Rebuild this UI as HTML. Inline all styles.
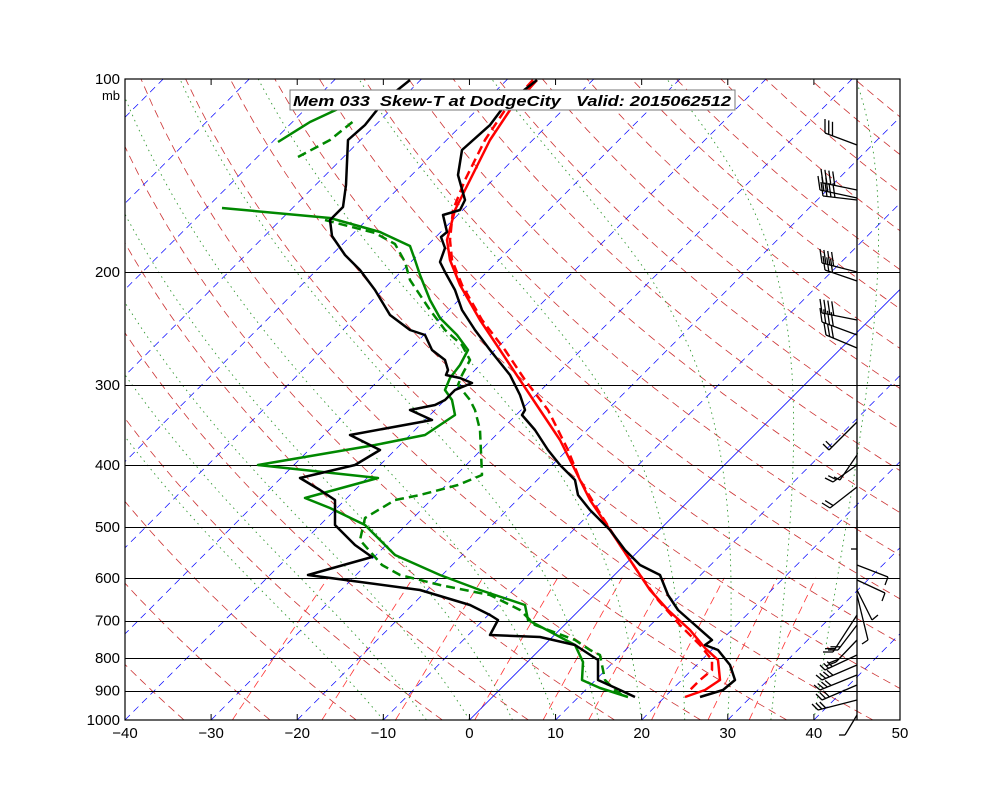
<!DOCTYPE html>
<html><head><meta charset="utf-8"><style>
body{margin:0;background:#fff;}
svg{display:block;font-family:"Liberation Sans",sans-serif;}
</style></head><body>
<svg id="s" width="1000" height="800" xmlns="http://www.w3.org/2000/svg">
<defs><clipPath id="c"><rect x="125" y="79" width="775" height="641"/></clipPath></defs>
<rect width="1000" height="800" fill="#fff"/>
<g id="bg" clip-path="url(#c)"></g>
<g id="hl"></g>
<g id="prof" clip-path="url(#c)" fill="none" stroke-width="2.5" stroke-linejoin="round"></g>
<g id="barbs" stroke="#000" stroke-width="1.3" fill="none"></g>
<line x1="857" y1="79" x2="857" y2="720" stroke="#000" stroke-width="1.3"/>
<rect x="125" y="79" width="775" height="641" fill="none" stroke="#000" stroke-width="1.2"/>
<g id="ax" font-size="15" fill="#000"></g>
<rect x="290" y="90" width="445" height="20" fill="#fff" stroke="#777" stroke-width="1"/>
<text x="293" y="106" font-size="15" font-weight="bold" font-style="italic" textLength="438" lengthAdjust="spacingAndGlyphs" xml:space="preserve">Mem 033  Skew-T at DodgeCity   Valid: 2015062512</text>
</svg>
<script>
var NS="http://www.w3.org/2000/svg";
function el(p,t,a){var e=document.createElementNS(NS,t);for(var k in a)e.setAttribute(k,a[k]);p.appendChild(e);return e;}
function Y(p){return 720-Math.log10(1000/p)*641;}
function X(T,y){return 125+(T+40)*775/90+(720-y);}
var bg=document.getElementById('bg');
// dry adiabats
for(var th=230;th<=520;th+=10){var d="";for(var p=1000;p>=100;p-=10){var T=th*Math.pow(p/1000,0.2857)-273.15;var y=Y(p);d+=(d?"L":"M")+X(T,y).toFixed(1)+","+y.toFixed(1);}
el(bg,"path",{d:d,stroke:"#c33",fill:"none","stroke-width":0.8,"stroke-dasharray":"8,5"});}
// mixing ratio lines
[0.0004,0.001,0.002,0.004,0.007,0.01,0.016,0.024,0.032].forEach(function(w){var d="";for(var p=1000;p>=600;p-=10){var e=w*p/(0.622+w),l=Math.log(e/6.112),T=243.5*l/(17.67-l),y=Y(p);d+=(d?"L":"M")+X(T,y).toFixed(1)+","+y.toFixed(1);}
el(bg,"path",{d:d,stroke:"#f33",fill:"none","stroke-width":0.8,"stroke-dasharray":"8,5"});});
// moist adiabats
function es(Tc){return 6.112*Math.exp(17.67*Tc/(Tc+243.5));}
for(var T0=-10;T0<=40;T0+=5){var T=T0+273.15,d="";for(var p=1000;p>=100;p-=2){var y=Y(p);d+=(d?"L":"M")+X(T-273.15,y).toFixed(1)+","+y.toFixed(1);
var e=es(T-273.15),rs=0.622*e/(p-e);var dT=(287*T+2.5e6*rs)/(p*(1004+2.5e6*2.5e6*rs*0.622/(287*T*T)));T-=dT*2;}
el(bg,"path",{d:d,stroke:"#393",fill:"none","stroke-width":0.9,"stroke-dasharray":"1.5,4"});}
// isotherms
for(var t=-160;t<=50;t+=10){el(bg,"line",{x1:X(t,720),y1:720,x2:X(t,79),y2:79,stroke:"#00f","stroke-width":t==0?0.8:0.7,"stroke-dasharray":t==0?"":"7,5"});}
var hl=document.getElementById('hl');
[200,300,400,500,600,700,800,900].forEach(function(p){var y=Math.round(Y(p))+0.5;el(hl,"line",{x1:125,x2:900,y1:y,y2:y,stroke:"#000","stroke-width":0.9});});
var ax=document.getElementById('ax');
[100,200,300,400,500,600,700,800,900,1000].forEach(function(p){var y=Y(p);el(ax,"text",{x:120,y:y+5,"text-anchor":"end"}).textContent=p;});
el(ax,"text",{x:120,y:100,"text-anchor":"end","font-size":13}).textContent="mb";
for(var t=-40;t<=50;t+=10){var x=125+(t+40)*775/90;el(ax,"text",{x:x,y:738,"text-anchor":"middle"}).textContent=(t<0?"\u2212"+(-t):t);
el(ax,"line",{x1:x,x2:x,y1:720,y2:714,stroke:"#000"});el(ax,"line",{x1:x,x2:x,y1:79,y2:85,stroke:"#000"});}
var pr=document.getElementById('prof');
function pl(pts,c,dash){var d=pts.map(function(q,i){return(i?"L":"M")+q[0]+","+q[1];}).join("");var a={d:d,stroke:c};if(dash)a["stroke-dasharray"]="9,5";el(pr,"path",a);}
pl([[537,80],[510,110],[490,140],[470,180],[455,210],[447,240],[450,260],[460,285],[480,320],[500,350],[520,380],[540,410],[560,440],[575,470],[590,500],[610,530],[630,560],[650,590],[668,610],[690,630],[705,648],[718,660],[720,680],[705,690],[685,697]],"#f00");
pl([[533,80],[505,110],[485,140],[465,180],[453,210],[450,240],[452,260],[462,285],[482,320],[505,350],[525,380],[548,410],[568,450],[580,480],[598,510],[620,545],[640,575],[658,600],[680,625],[700,645],[712,660],[712,670],[700,680],[690,690]],"#f00",1);
pl([[537,80],[505,105],[490,125],[462,150],[458,175],[465,200],[460,210],[443,215],[447,232],[441,237],[445,248],[440,262],[445,272],[455,290],[462,310],[475,330],[490,350],[510,375],[520,395],[525,410],[522,415],[535,430],[548,450],[560,465],[575,480],[578,495],[590,510],[610,530],[625,550],[640,565],[660,575],[668,595],[678,610],[695,625],[712,640],[705,645],[718,650],[730,665],[735,680],[723,690],[700,697]],"#000");
pl([[278,142],[310,122],[340,108],[360,96]],"#080");
pl([[298,157],[330,140],[355,120]],"#080",1);
pl([[222,208],[330,218],[380,232],[410,246],[415,260],[420,275],[430,300],[440,318],[457,335],[468,350],[460,365],[450,378],[445,390],[452,400],[455,415],[425,435],[375,445],[258,465],[378,478],[305,498],[330,508],[365,525],[380,540],[395,555],[440,575],[480,590],[525,605],[528,620],[560,637],[575,645],[583,662],[582,680],[600,688],[628,697]],"#080");
pl([[325,220],[375,233],[395,244],[405,262],[410,280],[430,310],[445,330],[462,345],[470,360],[462,375],[458,385],[470,400],[475,410],[480,430],[482,475],[458,485],[420,495],[395,500],[365,518],[360,540],[382,565],[400,575],[440,585],[490,595],[520,610],[535,625],[575,640],[590,650],[600,655],[605,680],[615,690],[625,697]],"#080",1);
pl([[410,80],[385,100],[365,125],[348,140],[346,185],[343,207],[330,220],[332,236],[345,255],[360,270],[375,290],[390,315],[410,330],[425,335],[432,350],[445,360],[448,370],[446,375],[460,378],[472,383],[455,390],[445,400],[435,405],[410,410],[432,420],[350,435],[380,450],[355,465],[300,478],[320,490],[335,500],[335,525],[355,545],[372,557],[308,575],[420,590],[470,605],[490,615],[498,620],[490,635],[540,637],[575,645],[598,660],[598,680],[620,690],[635,697]],"#000");
var b=document.getElementById('barbs');
function barb(y,ex,ey,n,tdx,tdy){el(b,"line",{x1:857,y1:y,x2:ex,y2:ey});var ux=(857-ex),uy=(y-ey),L=Math.hypot(ux,uy);ux/=L;uy/=L;
for(var i=0;i<n;i++){var bx=ex+ux*4*i,by=ey+uy*4*i;el(b,"line",{x1:bx,y1:by,x2:bx+tdx,y2:by+tdy});}}
barb(145,825,133,3,0,-14);
barb(190,823,183,4,-2,-14);barb(200,823,196,4,-2,-14);barb(198,820,190,3,-2,-14);
barb(272,822,263,4,-2,-14);barb(281,825,270,3,-2,-14);
barb(320,822,313,4,-2,-14);barb(335,822,322,4,-2,-14);barb(348,826,335,3,-2,-12);
barb(422,829,450,2,-6,-6);barb(455,840,480,1,-6,-3);barb(465,833,482,2,-8,-4);barb(487,830,508,2,-8,-5);
el(b,"line",{x1:857,y1:520,x2:857,y2:560});el(b,"line",{x1:851,y1:549,x2:857,y2:549});
barb(565,888,577,1,-3,8);barb(580,885,593,1,-3,8);barb(590,872,620,1,6,-5);barb(595,868,640,1,-6,4);
barb(615,833,652,2,-10,0);barb(625,838,650,2,-10,0);barb(640,836,662,2,-10,4);
barb(655,825,670,3,-5,-5);barb(665,822,680,4,-6,-5);barb(675,820,690,4,-6,-5);barb(685,822,700,3,-6,-6);barb(700,818,710,3,-6,-6);
barb(715,845,735,1,-6,0);
</script>
</body></html>
